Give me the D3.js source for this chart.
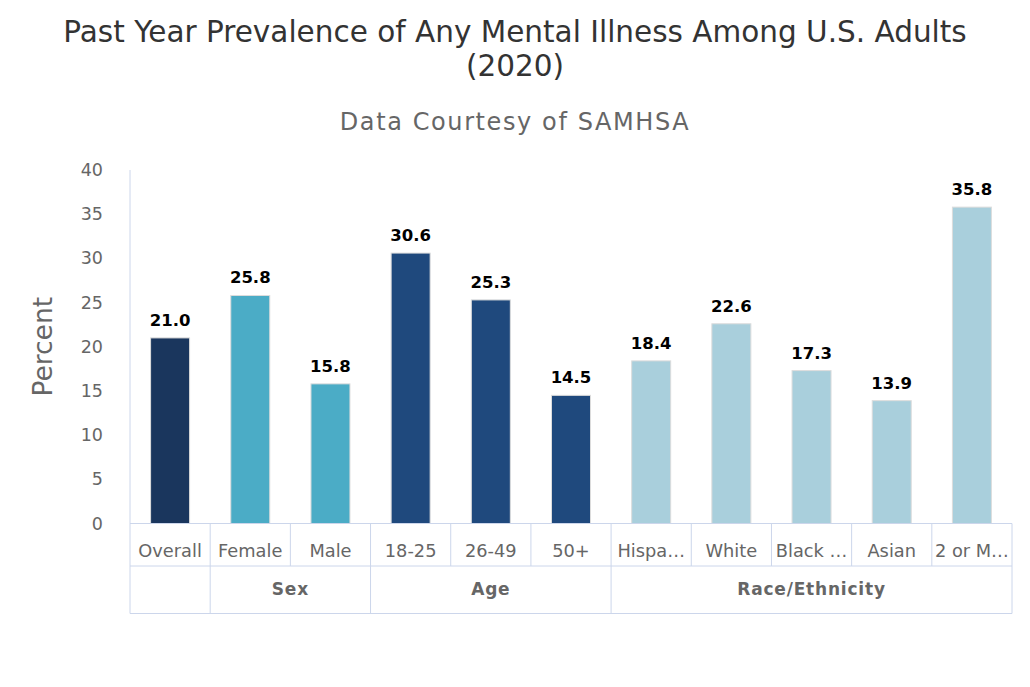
<!DOCTYPE html>
<html>
<head>
<meta charset="utf-8">
<script src="https://cdn.jsdelivr.net/npm/d3@7"></script>
<style>
  body { margin: 0; background: #fff; }
  text { font-family: "DejaVu Sans", sans-serif; }
</style>
</head>
<body>
<div id="chart"></div>
<script>
// values
const categories = ["Overall", "Female", "Male", "18-25", "26-49", "50+", "Hispa…", "White", "Black …", "Asian", "2 or M…"];
const values = [21.0, 25.8, 15.8, 30.6, 25.3, 14.5, 18.4, 22.6, 17.3, 13.9, 35.8];
const groupNames = ["", "Sex", "Age", "Race/Ethnicity"];
const groupSizes = [1, 2, 3, 5];
const groupColors = ["#1a365d", "#4bacc6", "#1f497d", "#a9cfdc"];
const yTicks = [0, 5, 10, 15, 20, 25, 30, 35, 40];

const width = 1030;
const height = 687;
const marginLeft = 130;
const marginRight = 18;
const plotTop = 170;
const plotBottom = 523.5;
const rowHeight = 42.5;
const gridColor = "#ccd6eb";

// which group each category belongs to
const groupOf = [];
groupSizes.forEach((n, g) => { for (let k = 0; k < n; k++) groupOf.push(g); });

const data = categories.map((c, i) => ({ name: c, value: values[i], group: groupOf[i] }));

const svg = d3.select("#chart")
    .append("svg")
    .attr("width", width)
    .attr("height", height);

const x = d3.scaleBand()
    .domain(categories)
    .range([marginLeft, width - marginRight]);

const y = d3.scaleLinear()
    .domain([0, 40])
    .range([plotBottom, plotTop]);

// titles
svg.append("text")
    .attr("x", width / 2).attr("y", 42)
    .attr("text-anchor", "middle")
    .attr("font-size", 29.5)
    .attr("fill", "#333")
    .text("Past Year Prevalence of Any Mental Illness Among U.S. Adults");
svg.append("text")
    .attr("x", width / 2).attr("y", 76)
    .attr("text-anchor", "middle")
    .attr("font-size", 29.5)
    .attr("fill", "#333")
    .text("(2020)");
svg.append("text")
    .attr("x", width / 2).attr("y", 130)
    .attr("text-anchor", "middle")
    .attr("font-size", 24)
    .attr("letter-spacing", 1.6)
    .attr("fill", "#666")
    .text("Data Courtesy of SAMHSA");

// y axis
const gy = svg.append("g")
    .attr("transform", `translate(${marginLeft},0)`)
    .call(d3.axisLeft(y).tickValues(yTicks).tickSize(0).tickPadding(27))
    .call(g => g.select(".domain").remove());
gy.selectAll("text")
    .attr("font-size", 17.5)
    .attr("fill", "#666")
    .attr("font-family", "DejaVu Sans, sans-serif");

svg.append("text")
    .attr("transform", `translate(52,${(plotTop + plotBottom) / 2}) rotate(-90)`)
    .attr("text-anchor", "middle")
    .attr("font-size", 26.5)
    .attr("fill", "#666")
    .text("Percent");

// left axis line
svg.append("line")
    .attr("x1", marginLeft).attr("x2", marginLeft)
    .attr("y1", plotTop).attr("y2", plotBottom + rowHeight * 2 + 5)
    .attr("stroke", gridColor);

// bars
const barWidth = 39;
svg.append("g")
    .selectAll("rect")
    .data(data)
    .join("rect")
    .attr("x", d => x(d.name) + x.bandwidth() / 2 - barWidth / 2)
    .attr("y", d => y(d.value))
    .attr("width", barWidth)
    .attr("height", d => y(0) - y(d.value))
    .attr("fill", d => groupColors[d.group])
    .attr("stroke", "#dcdcdc")
    .attr("stroke-width", 1);

// value labels
svg.append("g")
    .selectAll("text")
    .data(data)
    .join("text")
    .attr("x", d => x(d.name) + x.bandwidth() / 2)
    .attr("y", d => y(d.value) - 12)
    .attr("text-anchor", "middle")
    .attr("font-size", 16.5)
    .attr("font-weight", "bold")
    .attr("fill", "#000")
    .attr("stroke", "#fff")
    .attr("stroke-width", 2)
    .attr("paint-order", "stroke")
    .text(d => d3.format(".1f")(d.value));

// grouped category axis
const axisG = svg.append("g").attr("stroke", gridColor).attr("fill", "none");
const row1 = plotBottom;
const row2 = plotBottom + rowHeight;
const row3 = plotBottom + rowHeight * 2 + 5;
[row1, row2, row3].forEach(yy => {
    axisG.append("line")
        .attr("x1", marginLeft).attr("x2", width - marginRight)
        .attr("y1", yy).attr("y2", yy);
});
// category separators
categories.forEach(c => {
    axisG.append("line")
        .attr("x1", x(c) + x.bandwidth()).attr("x2", x(c) + x.bandwidth())
        .attr("y1", row1).attr("y2", row2);
});
// group separators
let acc = 0;
const groupSpans = groupSizes.map((n, g) => {
    const start = x(categories[acc]);
    acc += n;
    const end = x(categories[acc - 1]) + x.bandwidth();
    return { name: groupNames[g], start, end };
});
groupSpans.forEach(s => {
    axisG.append("line")
        .attr("x1", s.end).attr("x2", s.end)
        .attr("y1", row2).attr("y2", row3);
});

svg.append("g")
    .selectAll("text")
    .data(categories)
    .join("text")
    .attr("x", d => x(d) + x.bandwidth() / 2)
    .attr("y", row1 + 33)
    .attr("text-anchor", "middle")
    .attr("font-size", 17.8)
    .attr("fill", "#666")
    .text(d => d);

svg.append("g")
    .selectAll("text")
    .data(groupSpans)
    .join("text")
    .attr("x", d => (d.start + d.end) / 2)
    .attr("y", row2 + 29)
    .attr("text-anchor", "middle")
    .attr("font-size", 17)
    .attr("letter-spacing", 0.8)
    .attr("font-weight", "bold")
    .attr("fill", "#666")
    .text(d => d.name);
</script>
</body>
</html>
